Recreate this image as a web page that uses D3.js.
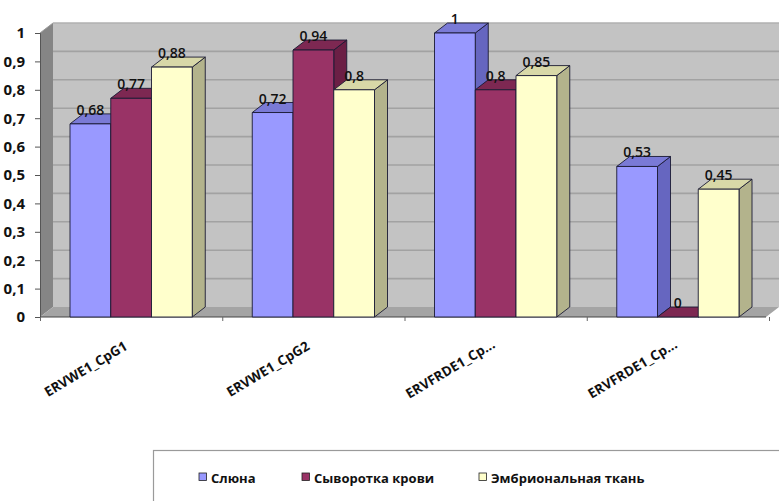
<!DOCTYPE html>
<html><head><meta charset="utf-8">
<script src="https://cdn.jsdelivr.net/npm/d3@7"></script>
<style>body{margin:0;background:#fff}svg{display:block}</style>
</head><body>
<svg id="c" width="779" height="501"></svg>
<script>
const categories = ["ERVWE1_CpG1", "ERVWE1_CpG2", "ERVFRDE1_Cp...", "ERVFRDE1_Cp..."];
const seriesNames = ["Слюна", "Сыворотка крови", "Эмбриональная ткань"];
const saliva = [0.68, 0.72, 1, 0.53];
const serum = [0.77, 0.94, 0.8, 0];
const embryo = [0.88, 0.8, 0.85, 0.45];
const yTicks = [0, 0.1, 0.2, 0.3, 0.4, 0.5, 0.6, 0.7, 0.8, 0.9, 1];

const seriesValues = [saliva, serum, embryo];
const colors = [
  {front: "#9999ff", top: "#7a7ad6", side: "#6666c0"},
  {front: "#993366", top: "#7d2852", side: "#6b1f45"},
  {front: "#ffffcc", top: "#d8d8a8", side: "#b3b38c"}
];
const font = "'Open Sans', 'Noto Sans', sans-serif";

const svg = d3.select("#c");
const DX = 13, DY = -10;
const x0 = 40, x1 = 769;
const y = d3.scaleLinear().domain([0, 1]).range([317, 33]);
const xCat = d3.scaleBand().domain(d3.range(categories.length)).range([x0, x1]).paddingInner(0).paddingOuter(0);
const bw = xCat.bandwidth();
const xSer = d3.scaleBand().domain(d3.range(seriesNames.length)).range([30, bw - 30]);

// back wall
svg.append("rect").attr("x", x0 + DX).attr("y", y(1) + DY).attr("width", 800).attr("height", y(0) - y(1))
  .attr("fill", "#c3c3c3");
// side wall
svg.append("path").attr("d", `M${x0},${y(0)}L${x0},${y(1)}L${x0 + DX},${y(1) + DY}L${x0 + DX},${y(0) + DY}Z`)
  .attr("fill", "#858585");
// floor
svg.append("path").attr("d", `M${x0},${y(0)}L${x1 - 3},${y(0)}L${x1 - 3 + DX},${y(0) + DY}L${x0 + DX},${y(0) + DY}Z`)
  .attr("fill", "#a4a4a4");
// gridlines
svg.append("g").selectAll("line").data(yTicks.filter(t => t > 0 && t < 1)).join("line")
  .attr("x1", x0 + DX).attr("x2", 800).attr("y1", d => y(d) + DY).attr("y2", d => y(d) + DY)
  .attr("stroke", "#a2a2a2").attr("stroke-width", 1.6);
// top border of wall
svg.append("line").attr("x1", x0 + DX).attr("x2", 800).attr("y1", y(1) + DY).attr("y2", y(1) + DY)
  .attr("stroke", "#b0b0b0").attr("stroke-width", 1.5);
svg.append("line").attr("x1", x0).attr("y1", y(1)).attr("x2", x0 + DX).attr("y2", y(1) + DY)
  .attr("stroke", "#9a9a9a").attr("stroke-width", 1);

// y axis
const yAxis = d3.axisLeft(y).tickValues(yTicks).tickSize(5).tickPadding(10)
  .tickFormat(d => d3.format("")(d).replace(".", ","));
const ga = svg.append("g").attr("transform", `translate(${x0},0)`).call(yAxis);
ga.select(".domain").attr("stroke", "#555").attr("stroke-width", 1);
ga.selectAll(".tick line").attr("stroke", "#555");
ga.selectAll("text").attr("font-family", font).attr("font-size", 15).attr("font-weight", 700).attr("fill", "#111");

// x axis
const xAxisScale = d3.scaleLinear().domain([0, categories.length]).range([x0, x1]);
const gx = svg.append("g").attr("transform", `translate(0,${y(0)})`)
  .call(d3.axisBottom(xAxisScale).tickValues(d3.range(categories.length + 1)).tickSize(4).tickFormat(""));
gx.select(".domain").attr("stroke", "#444").attr("d", `M${x0},0H${x1 - 3}`);
gx.selectAll(".tick line").attr("stroke", "#666");

// bars
const bars = [];
categories.forEach((c, ci) => {
  seriesValues.forEach((vals, si) => bars.push({ci, si, v: vals[ci]}));
});
const gb = svg.append("g");
const gl = svg.append("g");
bars.forEach(b => {
  const bx = xCat(b.ci) + xSer(b.si), w = xSer.bandwidth();
  const yt = y(b.v), yb = y(0);
  const col = colors[b.si];
  const g = gb.append("g").attr("stroke", "#1a1a33").attr("stroke-width", 0.9).attr("stroke-linejoin", "round");
  g.append("path").attr("fill", col.side)
    .attr("d", `M${bx + w},${yt}L${bx + w + DX},${yt + DY}L${bx + w + DX},${yb + DY}L${bx + w},${yb}Z`);
  g.append("path").attr("fill", col.top)
    .attr("d", `M${bx},${yt}L${bx + DX},${yt + DY}L${bx + w + DX},${yt + DY}L${bx + w},${yt}Z`);
  if (yb - yt > 0) g.append("rect").attr("x", bx).attr("y", yt).attr("width", w).attr("height", yb - yt).attr("fill", col.front);
  gl.append("text").attr("x", bx + w / 2).attr("y", yt + DY + 1).attr("text-anchor", "middle")
    .attr("font-family", font).attr("font-size", 14).attr("font-weight", 600).attr("fill", "#111")
    .text(d3.format("")(b.v).replace(".", ","));
});
gl.raise();

// category labels
svg.append("g").selectAll("text").data(categories).join("text")
  .attr("transform", (d, i) => `translate(${xCat(i) + bw / 2 - 43},${y(0) + 56}) rotate(-31)`)
  .attr("text-anchor", "middle").attr("font-family", font).attr("font-size", 13.5).attr("font-weight", 700).attr("fill", "#111")
  .text(d => d);

// legend
svg.append("rect").attr("x", 153.5).attr("y", 450.5).attr("width", 700).attr("height", 80)
  .attr("fill", "#fff").attr("stroke", "#9a9a9a").attr("stroke-width", 1.2);
const legX = [199, 302, 479];
const lg = svg.append("g").selectAll("g").data(seriesNames).join("g")
  .attr("transform", (d, i) => `translate(${legX[i]},473)`);
lg.append("rect").attr("width", 7.5).attr("height", 7.5).attr("fill", (d, i) => colors[i].front)
  .attr("stroke", "#222").attr("stroke-width", 0.8);
lg.append("text").attr("x", 12).attr("y", 9.5).attr("font-family", font).attr("font-size", 13).attr("font-weight", 700)
  .attr("fill", "#111").text(d => d);
</script>
</body></html>
